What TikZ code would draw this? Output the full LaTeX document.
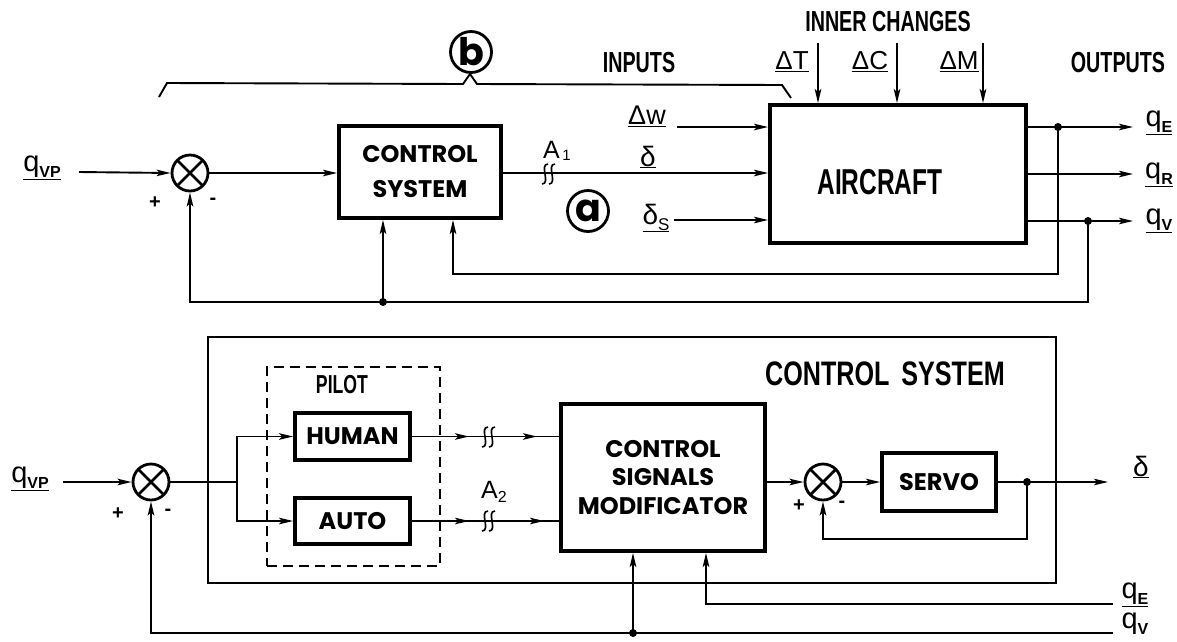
\documentclass[tikz,border=0pt]{standalone}
\usepackage{fontspec}
\usepackage{graphicx}
\setmainfont{Liberation Sans}
\newfontfamily\geo{Poppins}
\usetikzlibrary{arrows.meta,calc}
\newcommand\sig[2]{\underline{\fontsize{29}{29}\selectfont #1\raisebox{-0.35ex}{\fontsize{16}{16}\selectfont\bfseries #2}}}
\newcommand\cnd[2]{\scalebox{0.68}[1]{\bfseries\fontsize{#1}{#1}\selectfont #2}}
\begin{document}
\begin{tikzpicture}[x=1pt,y=-1pt,
  ln/.style={line width=1.9pt},
  arr/.style={ln,-{Stealth[length=14pt,width=6.5pt,inset=3pt]}},
  blk/.style={draw,line width=3.8pt,inner sep=0pt,align=center},
  sumn/.style={circle,draw,line width=2.8pt,minimum size=36pt,inner sep=0pt,
    path picture={\draw[line width=2.8pt]
      (path picture bounding box.north west) -- (path picture bounding box.south east)
      (path picture bounding box.south west) -- (path picture bounding box.north east);}},
  dot/.style={circle,fill,inner sep=0pt,minimum size=8pt},
  circl/.style={circle,draw,line width=2.8pt,minimum size=41pt,inner sep=0pt,
    font=\geo\bfseries\fontsize{38}{38}\selectfont},
  pm/.style={font=\bfseries\fontsize{20}{20}\selectfont},
  brk/.pic={\draw[line width=1.6pt] (2,-10) .. controls (-7,-10) and (5,10) .. (-4,10);
            \draw[line width=1.6pt] (9,-10) .. controls (0,-10) and (12,10) .. (3,10);},
  fbox/.style={font=\geo\bfseries\fontsize{24}{35}\selectfont},
  sbox/.style={font=\geo\bfseries\fontsize{24}{28.5}\selectfont},
  ]
\useasboundingbox (0,0) rectangle (1177,641);

% ================= TOP DIAGRAM =================
\node[sumn] (s1) at (190,173) {};
\node[blk,fbox,minimum width=162pt,minimum height=92pt] (cs) at (420,172) {CONTROL\\SYSTEM};
\node[blk,minimum width=256pt,minimum height=138pt,
  label={[xshift=-18pt,yshift=-8pt]center:\cnd{36}{AIRCRAFT}}] (air) at (898,174) {};

\node (qvp1) at (42,168) {\sig{q}{VP}};
\node[pm] (p1) at (155,203) {+};
\node[pm] (m1) at (213,201) {-};

\coordinate (in1) at (79,172);
\draw[arr] (in1) -- (s1.west);
\draw[arr] (s1.east) -- (s1.east -| cs.west);
\draw[arr] (cs.east |- 0,173) -- (air.west |- 0,173);
\pic at (546,174) {brk};
\node (a1) at (557,151) {\fontsize{25}{25}\selectfont A\raisebox{-0.1ex}{\fontsize{15}{15}\selectfont\,1}};
\node[circl] (ca) at (588,211) {a};

% inputs
\node[anchor=south] (ldw) at (647,130) {\underline{\fontsize{27}{27}\selectfont Δw}};
\node (ld) at (648,157) {\underline{\fontsize{28}{28}\selectfont δ}};
\node (lds) at (656,218) {\underline{\fontsize{28}{28}\selectfont δ\raisebox{-0.4ex}{\fontsize{17}{17}\selectfont S}}};
\coordinate (dwS) at (677,127);
\coordinate (dsS) at (674,220);
\draw[arr] (dwS) -- (dwS -| air.west);
\draw[arr] (dsS) -- (dsS -| air.west);

% inner changes
\node (tinner) at (888,22) {\cnd{29}{INNER CHANGES}};
\node (tinputs) at (639,63) {\cnd{29}{INPUTS}};
\node (toutputs) at (1118,63) {\cnd{29}{OUTPUTS}};
\node (ldT) at (792,62) {\underline{\fontsize{26}{26}\selectfont ΔT}};
\node (ldC) at (870,62) {\underline{\fontsize{26}{26}\selectfont ΔC}};
\node (ldM) at (959,62) {\underline{\fontsize{26}{26}\selectfont ΔM}};
\coordinate (dT) at (818,43);
\coordinate (dC) at (897,43);
\coordinate (dM) at (983,43);
\draw[arr] (dT) -- (dT |- air.north);
\draw[arr] (dC) -- (dC |- air.north);
\draw[arr] (dM) -- (dM |- air.north);

% outputs
\coordinate (oE) at (1133,127);
\coordinate (oR) at (1133,174);
\coordinate (oV) at (1133,221);
\draw[arr] (air.east |- oE) -- (oE);
\draw[arr] (air.east |- oR) -- (oR);
\draw[arr] (air.east |- oV) -- (oV);
\node (lqE) at (1159,123) {\sig{q}{E}};
\node (lqR) at (1159,175) {\sig{q}{R}};
\node (lqV) at (1159,221) {\sig{q}{V}};
\node[dot] (jE) at (1058,127) {};
\node[dot] (jV) at (1088,221) {};
\node[dot] (j1) at (383,302) {};

% feedbacks
\draw[arr] (jE.center) -- (1058,274) -| ([xshift=33pt]cs.south);
\draw[arr] (jV.center) -- (1088,302) -| (s1.south);
\draw[arr] (j1.center) -- (j1.center |- cs.south);

% bracket (b)
\node[circl] (cb) at (471,52) {b};
\draw[ln] (159,97) -- (167,83) -- (463,84) -- (470,74) -- (477,84) -- (782,85) -- (791,98);

% ================= BOTTOM DIAGRAM =================
\node[draw,ln,minimum width=848pt,minimum height=246pt,inner sep=0pt] (csys) at (632,460) {};
\node (tcs) at (885,374) {\scalebox{0.74}[1]{\bfseries\fontsize{34}{34}\selectfont CONTROL\hspace{16pt}SYSTEM}};
\node[draw,ln,dash pattern=on 10pt off 6pt,minimum width=173pt,minimum height=199pt,inner sep=0pt] (pil) at (353.5,466.5) {};
\node (tpilot) at (342,385) {\cnd{26}{PILOT}};

\node[sumn] (s2) at (151,482) {};
\node[blk,font=\geo\bfseries\fontsize{24}{24}\selectfont,minimum width=115pt,minimum height=47pt] (human) at (352.5,436.5) {HUMAN};
\node[blk,font=\geo\bfseries\fontsize{24}{24}\selectfont,minimum width=115pt,minimum height=46pt] (auto) at (352.5,521) {AUTO};
\node[blk,sbox,minimum width=204pt,minimum height=147pt] (csm) at (663,477.5) {CONTROL\\SIGNALS\\MODIFICATOR};
\node[sumn] (s3) at (823,482) {};
\node[blk,font=\geo\bfseries\fontsize{24}{24}\selectfont,minimum width=114pt,minimum height=58pt] (servo) at (939,482) {SERVO};

\node (qvp2) at (30,479) {\sig{q}{VP}};
\node[pm] (p2) at (118,514) {+};
\node[pm] (m2) at (168,512) {-};
\node[pm] (p3) at (799,506) {+};
\node[pm] (m3) at (842,504) {-};

\coordinate (in2) at (63,482);
\draw[arr] (in2) -- (s2.west);
\coordinate (br) at (237,482);
\draw[ln] (s2.east) -- (br);
\draw[arr] (br) |- (human.west);
\draw[arr] (br) |- (auto.west);

% human / auto to CSM with breaks
\draw[ln] (human.east) -- (human.east -| csm.west);
\draw[ln] (auto.east) -- (auto.east -| csm.west);
\coordinate (hm1) at (469,436.5);
\coordinate (hm2) at (537,436.5);
\coordinate (am1) at (469,521);
\coordinate (am2) at (544,521);
\draw[arr] (human.east) -- (hm1);
\draw[arr] ([xshift=22pt]hm1) -- (hm2);
\draw[arr] (auto.east) -- (am1);
\draw[arr] ([xshift=22pt]am1) -- (am2);
\pic at (486,437) {brk};
\pic at (486,521) {brk};
\node (a2) at (494,492) {\fontsize{25}{25}\selectfont A\raisebox{-0.3ex}{\fontsize{16}{16}\selectfont 2}};

% CSM -> sum -> servo -> delta
\draw[arr] (csm.east |- s3.west) -- (s3.west);
\draw[arr] (s3.east) -- (servo.west);
\node[dot] (js) at (1027,482) {};
\draw[ln] (servo.east) -- (js.center);
\coordinate (dout) at (1108,482);
\draw[arr] (js.center) -- (dout);
\draw[arr] (js.center) -- (1027,539) -| (s3.south);
\node (ldo) at (1141,467) {\underline{\fontsize{28}{28}\selectfont δ}};

% q_E and q_V feedback
\coordinate (qEin) at (1113,604);
\coordinate (qVin) at (1113,633);
\draw[arr] (qEin) -| ([xshift=43pt]csm.south);
\draw[arr] (qVin) -| (s2.south);
\node[dot] (j2) at (633,633) {};
\draw[arr] (j2.center) -- (j2.center |- csm.south);
\node (lqE2) at (1135,595) {\sig{q}{E}};
\node (lqV2) at (1135,624) {\fontsize{29}{29}\selectfont q\raisebox{-0.35ex}{\fontsize{16}{16}\selectfont\bfseries V}};
\end{tikzpicture}
\end{document}
